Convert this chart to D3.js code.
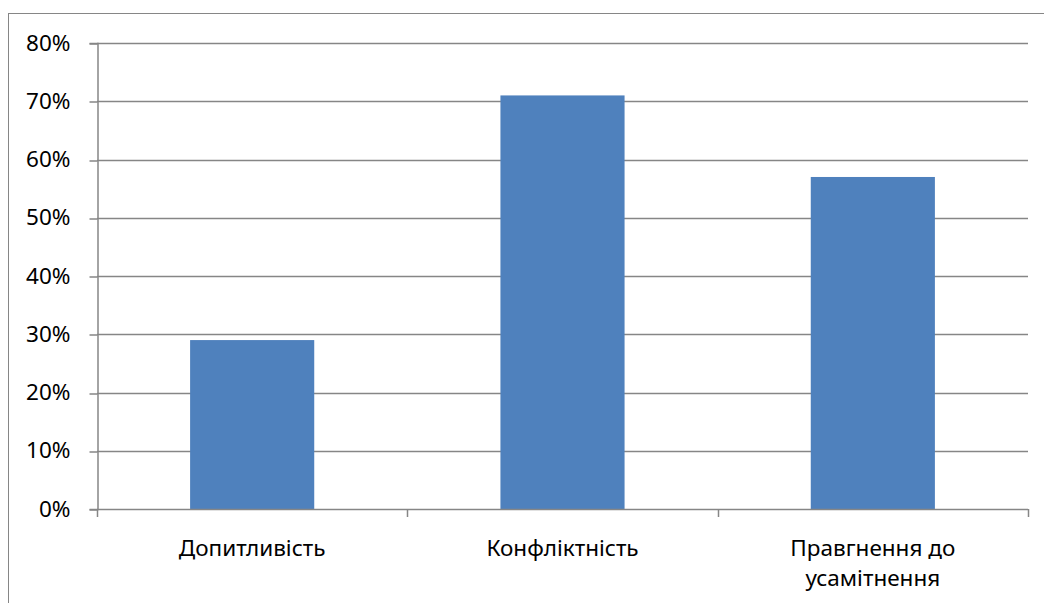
<!DOCTYPE html>
<html>
<head>
<meta charset="utf-8">
<script src="https://cdn.jsdelivr.net/npm/d3@7"></script>
<style>
  html, body { margin: 0; padding: 0; background: #ffffff; }
  svg { display: block; }
  text { font-family: "Noto Sans", "Open Sans", sans-serif; fill: #000; }
</style>
</head>
<body>
<svg id="chart" width="1044" height="603"></svg>
<script>
// Categories (each label split into display lines)
const categories = ["Допитливість", "Конфліктність", "Правгнення до усамітнення"];
const categoryLines = [["Допитливість"], ["Конфліктність"], ["Правгнення до", "усамітнення"]];
// Share of respondents per category
const values = [0.29, 0.71, 0.57];
// Y axis ticks
const yTicks = [0, 0.1, 0.2, 0.3, 0.4, 0.5, 0.6, 0.7, 0.8];

const W = 1044, H = 603;
const margin = { left: 97, right: 16, top: 43, bottom: 94 };
const svg = d3.select("#chart");
const axisColor = "#868686";
const fontSize = "22.5px";

// Outer chart frame
svg.append("rect")
  .attr("x", 8.5).attr("y", 13.5)
  .attr("width", W + 20).attr("height", H + 20)
  .attr("fill", "none").attr("stroke", axisColor).attr("stroke-width", 1);

const x = d3.scaleBand()
  .domain(categories)
  .range([margin.left, W - margin.right])
  .padding(0);

const y = d3.scaleLinear()
  .domain([0, 0.8])
  .range([H - margin.bottom, margin.top]);

// Horizontal gridlines
svg.append("g").selectAll("line")
  .data(yTicks.filter(d => d > 0))
  .join("line")
  .attr("x1", margin.left).attr("x2", W - margin.right)
  .attr("y1", d => Math.round(y(d)) + 0.5).attr("y2", d => Math.round(y(d)) + 0.5)
  .attr("stroke", axisColor).attr("stroke-width", 1.5);

// Bars
const barW = x.step() * 0.4;
svg.append("g").selectAll("rect")
  .data(values)
  .join("rect")
  .attr("x", (d, i) => x(categories[i]) + (x.bandwidth() - barW) / 2)
  .attr("y", d => y(d))
  .attr("width", barW)
  .attr("height", d => y(0) - y(d))
  .attr("fill", "#4F81BD");

// Y axis
const yAxis = d3.axisLeft(y)
  .tickValues(yTicks)
  .tickFormat(d3.format(".0%"))
  .tickSize(8)
  .tickPadding(19);
const gy = svg.append("g")
  .attr("transform", `translate(${margin.left + 0.5},0)`)
  .call(yAxis);
gy.select(".domain").attr("stroke", axisColor).attr("stroke-width", 1.5);
gy.selectAll(".tick line").attr("stroke", axisColor).attr("stroke-width", 1.5)
  .attr("transform", d => `translate(0,${Math.round(y(d)) + 0.5 - y(d)})`);
gy.selectAll(".tick text")
  .style("font-family", "'Noto Sans', 'Open Sans', sans-serif")
  .style("font-size", fontSize).attr("fill", "#000");

// X axis baseline and category boundary ticks
const gx = svg.append("g");
gx.append("line")
  .attr("x1", margin.left).attr("x2", W - margin.right)
  .attr("y1", Math.round(y(0)) + 0.5).attr("y2", Math.round(y(0)) + 0.5)
  .attr("stroke", axisColor).attr("stroke-width", 1.5);
const bounds = categories.map(c => x(c)).concat([x(categories[categories.length - 1]) + x.step()]);
gx.selectAll("line.b")
  .data(bounds)
  .join("line").attr("class", "b")
  .attr("x1", d => Math.round(d) + 0.5).attr("x2", d => Math.round(d) + 0.5)
  .attr("y1", Math.round(y(0))).attr("y2", Math.round(y(0)) + 8)
  .attr("stroke", axisColor).attr("stroke-width", 1.5);

// Category labels
const labels = gx.selectAll("text.cat")
  .data(categoryLines)
  .join("text").attr("class", "cat")
  .attr("text-anchor", "middle")
  .style("font-size", fontSize)
  .attr("transform", (d, i) => `translate(${x(categories[i]) + x.bandwidth() / 2},${y(0) + 47})`);
labels.selectAll("tspan")
  .data(d => d)
  .join("tspan")
  .attr("x", 0)
  .attr("dy", (d, i) => i === 0 ? 0 : 30)
  .text(d => d);
</script>
</body>
</html>
